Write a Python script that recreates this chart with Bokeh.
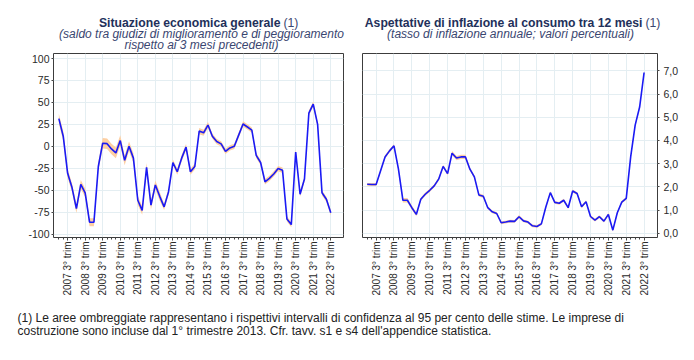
import math
from bokeh.plotting import figure
from bokeh.models import ColumnDataSource, FixedTicker, Label, Range1d
from bokeh.layouts import column, row
from bokeh.embed import file_html
from bokeh.resources import INLINE

# ---------------- data ----------------
quarters = [f"{y} {q}° trim" for y in range(2007, 2023) for q in (1, 2, 3, 4)][:63]

tick_labels = ["2007 3° trim", "2008 3° trim", "2009 3° trim", "2010 3° trim",
               "2011 3° trim", "2012 3° trim", "2013 3° trim", "2014 3° trim",
               "2015 3° trim", "2016 3° trim", "2017 3° trim", "2018 3° trim",
               "2019 3° trim", "2020 3° trim", "2021 3° trim", "2022 3° trim"]

# Situazione economica generale (saldo)
clima = [31.5, 11.5, -30.8, -47.0, -71.0, -43.5, -53.0, -86.5, -86.5, -23.0,
         3.5, 3.0, -3.0, -7.5, 6.5, -16.0, 0.0, -13.5, -61.5, -73.0,
         -24.0, -67.0, -44.0, -57.0, -69.0, -52.0, -18.5, -29.0, -13.5, -1.0,
         -29.0, -23.0, 17.3, 15.4, 24.2, 11.5, 5.4, 2.7, -5.8, -1.9,
         0.0, 12.7, 25.4, 22.0, 18.5, -10.4, -18.5, -40.4, -36.5, -31.5,
         -25.4, -27.3, -82.7, -89.2, -6.5, -54.6, -37.3, 37.7, 48.0, 25.0,
         -53.0, -60.4, -75.8]
clima_ci = [5.5, 5.5, 5.0, 5.0, 5.0, 5.0, 5.0, 4.5, 4.5, 5.0,
            6.0, 6.0, 6.0, 6.0, 6.0, 5.5, 5.5, 5.5, 5.0, 5.0,
            5.0, 5.0, 5.0, 5.0, 3.5, 3.5, 3.5, 3.5, 3.5, 3.5,
            3.5, 3.5, 3.5, 3.5, 3.5, 3.0, 3.0, 3.0, 3.0, 3.0,
            3.0, 3.0, 3.0, 3.0, 3.0, 3.0, 3.0, 3.0, 3.0, 3.0,
            3.0, 3.0, 3.0, 3.0, 3.0, 3.0, 3.0, 3.0, 3.0, 3.0,
            3.0, 3.0, 3.0]

# Aspettative di inflazione al consumo tra 12 mesi (%)
infl = [2.11, 2.10, 2.10, 2.69, 3.29, 3.55, 3.77, 2.76, 1.42, 1.42,
        1.10, 0.81, 1.46, 1.68, 1.85, 2.04, 2.33, 2.88, 2.57, 3.45,
        3.24, 3.29, 3.29, 2.76, 2.43, 1.65, 1.59, 1.10, 0.92, 0.85,
        0.45, 0.48, 0.52, 0.51, 0.71, 0.53, 0.48, 0.32, 0.29, 0.40,
        1.13, 1.75, 1.33, 1.29, 1.42, 1.10, 1.82, 1.71, 1.14, 1.36,
        0.72, 0.56, 0.71, 0.52, 0.81, 0.13, 0.88, 1.34, 1.50, 3.30,
        4.66, 5.44, 6.93]
infl_ci = [0.06, 0.06, 0.06, 0.06, 0.07, 0.07, 0.07, 0.08, 0.10, 0.10,
           0.09, 0.08, 0.07, 0.07, 0.07, 0.07, 0.07, 0.07, 0.07, 0.09,
           0.09, 0.09, 0.09, 0.07, 0.07, 0.07, 0.07, 0.06, 0.06, 0.06,
           0.06, 0.06, 0.06, 0.06, 0.07, 0.06, 0.06, 0.06, 0.06, 0.06,
           0.06, 0.06, 0.06, 0.06, 0.06, 0.06, 0.06, 0.06, 0.06, 0.06,
           0.06, 0.06, 0.06, 0.06, 0.06, 0.06, 0.06, 0.06, 0.06, 0.06,
           0.06, 0.06, 0.06]

left_vals = [-100, -75, -50, -25, 0, 25, 50, 75, 100]
left_labels = ["-100", "-75", "-50", "-25", "0", "25", "50", "75", "100"]
right_vals = [0, 1, 2, 3, 4, 5, 6, 7]
right_labels = ["0,0", "1,0", "2,0", "3,0", "4,0", "5,0", "6,0", "7,0"]

# ---------------- style ----------------
FONT = "Liberation Sans"
NAVY = "#22305a"
NAVY2 = "#3a4670"
LINE = "#1a1af5"
BAND = "#fdcfa2"
GRID = "#e4eef2"
TXT = "#2a2a2a"

x = list(range(len(quarters)))
tick_pos = [quarters.index(t) for t in tick_labels]

HEAD_H = 52


def make_panel(width, minl, minr, yvals, ylabels, ylo, yhi, xlo, xhi, ydata, ci, y_loc, ystand):
    src = ColumnDataSource(dict(
        x=x, y=ydata,
        lo=[v - c for v, c in zip(ydata, ci)],
        hi=[v + c for v, c in zip(ydata, ci)],
    ))
    p = figure(width=width, height=248, output_backend="svg", toolbar_location=None,
               x_range=Range1d(xlo, xhi), y_range=Range1d(ylo, yhi),
               min_border_left=minl, min_border_right=minr,
               min_border_top=1, min_border_bottom=63,
               y_axis_location=y_loc, background_fill_color="white",
               border_fill_color="white")
    p.outline_line_color = "#3c3c3c"
    p.outline_line_width = 1
    p.varea(x="x", y1="lo", y2="hi", source=src, fill_color=BAND, fill_alpha=1.0)
    p.line(x="x", y="y", source=src, line_color=LINE, line_width=1.6)

    p.xaxis.ticker = FixedTicker(ticks=tick_pos, minor_ticks=x)
    p.xaxis.major_label_overrides = {pos: lab for pos, lab in zip(tick_pos, tick_labels)}
    p.xaxis.major_label_orientation = math.pi / 2
    p.xaxis.major_label_text_font = FONT
    p.xaxis.major_label_text_font_size = "10px"
    p.xaxis.major_label_text_color = TXT
    p.xaxis.axis_line_color = None
    p.xaxis.major_tick_in = 0
    p.xaxis.major_tick_out = 3
    p.xaxis.minor_tick_in = 0
    p.xaxis.minor_tick_out = 2
    p.xaxis.major_tick_line_color = "#444444"
    p.xaxis.minor_tick_line_color = "#444444"
    p.xaxis.major_label_standoff = 1

    p.yaxis.ticker = FixedTicker(ticks=yvals, minor_ticks=[])
    p.yaxis.major_label_overrides = {v: l for v, l in zip(yvals, ylabels)}
    p.yaxis.major_label_text_font = FONT
    p.yaxis.major_label_text_font_size = "10.5px"
    p.yaxis.major_label_text_color = TXT
    p.yaxis.axis_line_color = None
    p.yaxis.major_tick_in = 0
    p.yaxis.major_tick_out = 2
    p.yaxis.major_tick_line_color = "#444444"
    p.yaxis.major_label_standoff = ystand

    p.xgrid.ticker = FixedTicker(ticks=tick_pos)
    p.xgrid.grid_line_color = GRID
    p.ygrid.grid_line_color = GRID
    return p


left = make_panel(352, 53, 9, left_vals, left_labels, -103.9, 105.7, -1.22, 64.9,
                  clima, clima_ci, "left", 2)
right = make_panel(342, 10, 37, right_vals, right_labels, -0.186, 7.75, -1.05, 65.0,
                   infl, infl_ci, "right", 4)


def text_fig(w, h):
    f = figure(width=w, height=h, output_backend="svg", toolbar_location=None,
               x_range=Range1d(0, w), y_range=Range1d(0, h),
               min_border=0, min_border_left=0, min_border_right=0,
               min_border_top=0, min_border_bottom=0)
    f.xaxis.visible = False
    f.yaxis.visible = False
    f.grid.visible = False
    f.outline_line_color = None
    return f


# ---------------- header (titles) ----------------
head = text_fig(694, HEAD_H)


def titles(f, bold_text, bold_right, sub_lines, sub_center):
    f.add_layout(Label(x=bold_right, y=HEAD_H - 22.5, x_units="screen", y_units="screen",
                       text=bold_text, text_font=FONT, text_font_style="bold",
                       text_font_size="12.2px", text_color=NAVY,
                       text_align="right", text_baseline="alphabetic"))
    f.add_layout(Label(x=bold_right + 3, y=HEAD_H - 22.5, x_units="screen", y_units="screen",
                       text="(1)", text_font=FONT, text_font_style="normal",
                       text_font_size="12.2px", text_color=NAVY2,
                       text_align="left", text_baseline="alphabetic"))
    for i, s in enumerate(sub_lines):
        f.add_layout(Label(x=sub_center, y=HEAD_H - 33.5 - 11 * i, x_units="screen", y_units="screen",
                           text=s, text_font=FONT, text_font_style="italic",
                           text_font_size="12px", text_color=NAVY2,
                           text_align="center", text_baseline="alphabetic"))


titles(head, "Situazione economica generale", 280,
       ["(saldo tra giudizi di miglioramento e di peggioramento",
        "rispetto ai 3 mesi precedenti)"], 201)
titles(head, "Aspettative di inflazione al consumo tra 12 mesi", 642,
       ["(tasso di inflazione annuale; valori percentuali)"], 510)

# ---------------- footnote ----------------
foot = text_fig(694, 56)
foot_lines = ["(1) Le aree ombreggiate rappresentano i rispettivi intervalli di confidenza al 95 per cento delle stime. Le imprese di",
              "costruzione sono incluse dal 1° trimestre 2013. Cfr. tavv. s1 e s4 dell'appendice statistica."]
for i, s in enumerate(foot_lines):
    foot.add_layout(Label(x=17, y=39 - 13 * i, x_units="screen", y_units="screen",
                          text=s, text_font=FONT, text_font_size="12px",
                          text_color="#222222", text_baseline="alphabetic"))

layout = column(head, row(left, right), foot)
open("out.html", "w").write(file_html(layout, INLINE))
